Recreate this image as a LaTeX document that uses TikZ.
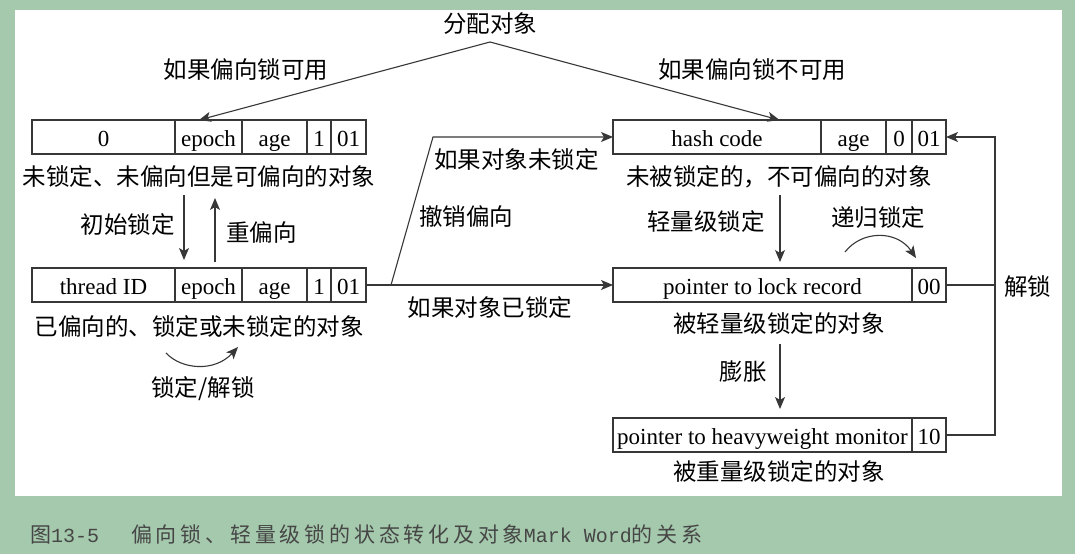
\documentclass[tikz,border=0pt]{standalone}
\usepackage{fontspec}
\setmainfont{Liberation Serif}
\newfontfamily\cjkfont{Noto Sans CJK SC}
\newfontfamily\figcjkfont[LetterSpace=18]{Noto Sans CJK SC}
\newfontfamily\figmonofont{Liberation Mono}
\usetikzlibrary{positioning,arrows.meta,calc}

\definecolor{pagegreen}{RGB}{165,201,172}
\definecolor{linegray}{RGB}{55,55,55}
\definecolor{captiongray}{RGB}{70,70,70}

\newcommand{\figcjk}{\figcjkfont\fontsize{21}{24}\selectfont}
\newcommand{\figmono}{\figmonofont\fontsize{20}{24}\selectfont}

\tikzset{
  cell/.style={draw=linegray, line width=1.1pt, minimum height=34pt,
    inner sep=0pt, outer sep=0pt, text height=21pt, text depth=3pt,
    font=\fontsize{23}{27}\selectfont},
  lbl/.style={font=\cjkfont\fontsize{23.5}{28}\selectfont, inner sep=1pt},
  arr/.style={draw=linegray, line width=1.1pt,
    -{Stealth[length=12pt,width=10pt,inset=3pt]}},
  line/.style={draw=linegray, line width=1.1pt},
}

\begin{document}
\begin{tikzpicture}[x=1pt,y=-1pt]
  \fill[pagegreen] (0,0) rectangle (1075,554);
  \fill[white] (15,10) rectangle (1062,496);
  \useasboundingbox (0,0) rectangle (1075,554);

  %% biasable, unlocked
  \node[cell, minimum width=143pt, anchor=north west] (b1a) at (32,120) {0};
  \node[cell, minimum width=67pt, right=0pt of b1a] (b1b) {epoch};
  \node[cell, minimum width=65pt, right=0pt of b1b] (b1c) {age};
  \node[cell, minimum width=24pt, right=0pt of b1c] (b1d) {1};
  \node[cell, minimum width=35pt, right=0pt of b1d] (b1e) {01};
  \node[lbl] (l1) at (199,177) {未锁定、未偏向但是可偏向的对象};

  %% biased
  \node[cell, minimum width=143pt, anchor=north west] (b2a) at (32,268) {thread ID};
  \node[cell, minimum width=67pt, right=0pt of b2a] (b2b) {epoch};
  \node[cell, minimum width=65pt, right=0pt of b2b] (b2c) {age};
  \node[cell, minimum width=24pt, right=0pt of b2c] (b2d) {1};
  \node[cell, minimum width=35pt, right=0pt of b2d] (b2e) {01};
  \node[lbl] (l2) at (199,327) {已偏向的、锁定或未锁定的对象};

  %% not biasable
  \node[cell, minimum width=208pt, anchor=north west] (b3a) at (613,120) {hash code};
  \node[cell, minimum width=65pt, right=0pt of b3a] (b3b) {age};
  \node[cell, minimum width=26pt, right=0pt of b3b] (b3c) {0};
  \node[cell, minimum width=34pt, right=0pt of b3c] (b3d) {01};
  \node[lbl] (l3) at (779,177) {未被锁定的，不可偏向的对象};

  %% lightweight
  \node[cell, minimum width=299pt, anchor=north west] (b4a) at (613,268) {pointer to lock record};
  \node[cell, minimum width=34pt, right=0pt of b4a] (b4b) {00};
  \node[lbl] (l4) at (779,324) {被轻量级锁定的对象};

  %% heavyweight
  \node[cell, minimum width=299pt, anchor=north west] (b5a) at (613,418) {pointer to heavyweight monitor};
  \node[cell, minimum width=34pt, right=0pt of b5a] (b5b) {10};
  \node[lbl] (l5) at (779,472) {被重量级锁定的对象};

  %% allocation
  \node[lbl] (alloc) at (490,24) {分配对象};
  \coordinate (apex) at (490,42);
  \draw[arr] (apex) -- ($(b1a.north west)!.5!(b1e.north east)$);
  \draw[arr] (apex) -- ($(b3a.north west)!.5!(b3d.north east)$);
  \node[lbl] (canbias) at (246,70) {如果偏向锁可用};
  \node[lbl] (nobias) at (752,70) {如果偏向锁不可用};

  %% left column
  \coordinate (initTop) at (184,195);
  \draw[arr, shorten >=8pt] (initTop) -- (initTop |- b2a.north);
  \node[lbl, anchor=east] (initlbl) at (176,225) {初始锁定};
  \coordinate (rebiasBot) at (215,262);
  \coordinate (rebiasTop) at (215,198);
  \draw[arr] (rebiasBot) -- (rebiasTop);
  \node[lbl, anchor=west] (rebiaslbl) at (225,233) {重偏向};
  \coordinate (lockL) at (166,353);
  \coordinate (lockR) at (238,347);
  \draw[arr] (lockL) .. controls (182,370) and (215,372) .. (lockR);
  \node[lbl] (locklbl) at (203,389) {锁定/解锁};

  %% revoke
  \draw[line] (b2e.east) -- ++(25,0) coordinate (fork);
  \draw[arr] (fork) -- ([xshift=-180pt]b3a.west) -- (b3a.west);
  \draw[arr] (fork) -- (b4a.west);
  \node[lbl, anchor=west] (unlockedlbl) at (433,160) {如果对象未锁定};
  \node[lbl] (revokelbl) at (466,217) {撤销偏向};
  \node[lbl] (lockedlbl) at (490,308) {如果对象已锁定};

  %% right column
  \coordinate (lightTop) at (780,195);
  \draw[arr, shorten >=6pt] (lightTop) -- (lightTop |- b4a.north);
  \node[lbl, anchor=east] (lightlbl) at (766,222) {轻量级锁定};
  \coordinate (recL) at (845,252);
  \coordinate (recR) at (916,258);
  \draw[arr] (recL) .. controls (862,230) and (897,230) .. (recR);
  \node[lbl] (reclbl) at (878,218) {递归锁定};
  \coordinate (inflTop) at (780,344);
  \draw[arr, shorten >=9pt] (inflTop) -- (inflTop |- b5a.north);
  \node[lbl, anchor=east] (infllbl) at (768,372) {膨胀};

  %% unlock
  \draw[arr] (b5b.east) -- ++(49,0) coordinate (retBot) |- (b3d.east);
  \draw[line] (b4b.east) -- (b4b.east -| retBot);
  \node[lbl, anchor=west] (unlocklbl) at (1003,287) {解锁};

  %% caption
  \node[anchor=west, text=captiongray, inner sep=0pt] (caption) at (30,534)
    {{\figcjk 图}{\figmono 13-5}\hspace{32pt}{\figcjk 偏向锁、轻量级锁的状态转化及对象}{\figmono Mark Word}{\figcjk 的关系}};
\end{tikzpicture}
\end{document}
